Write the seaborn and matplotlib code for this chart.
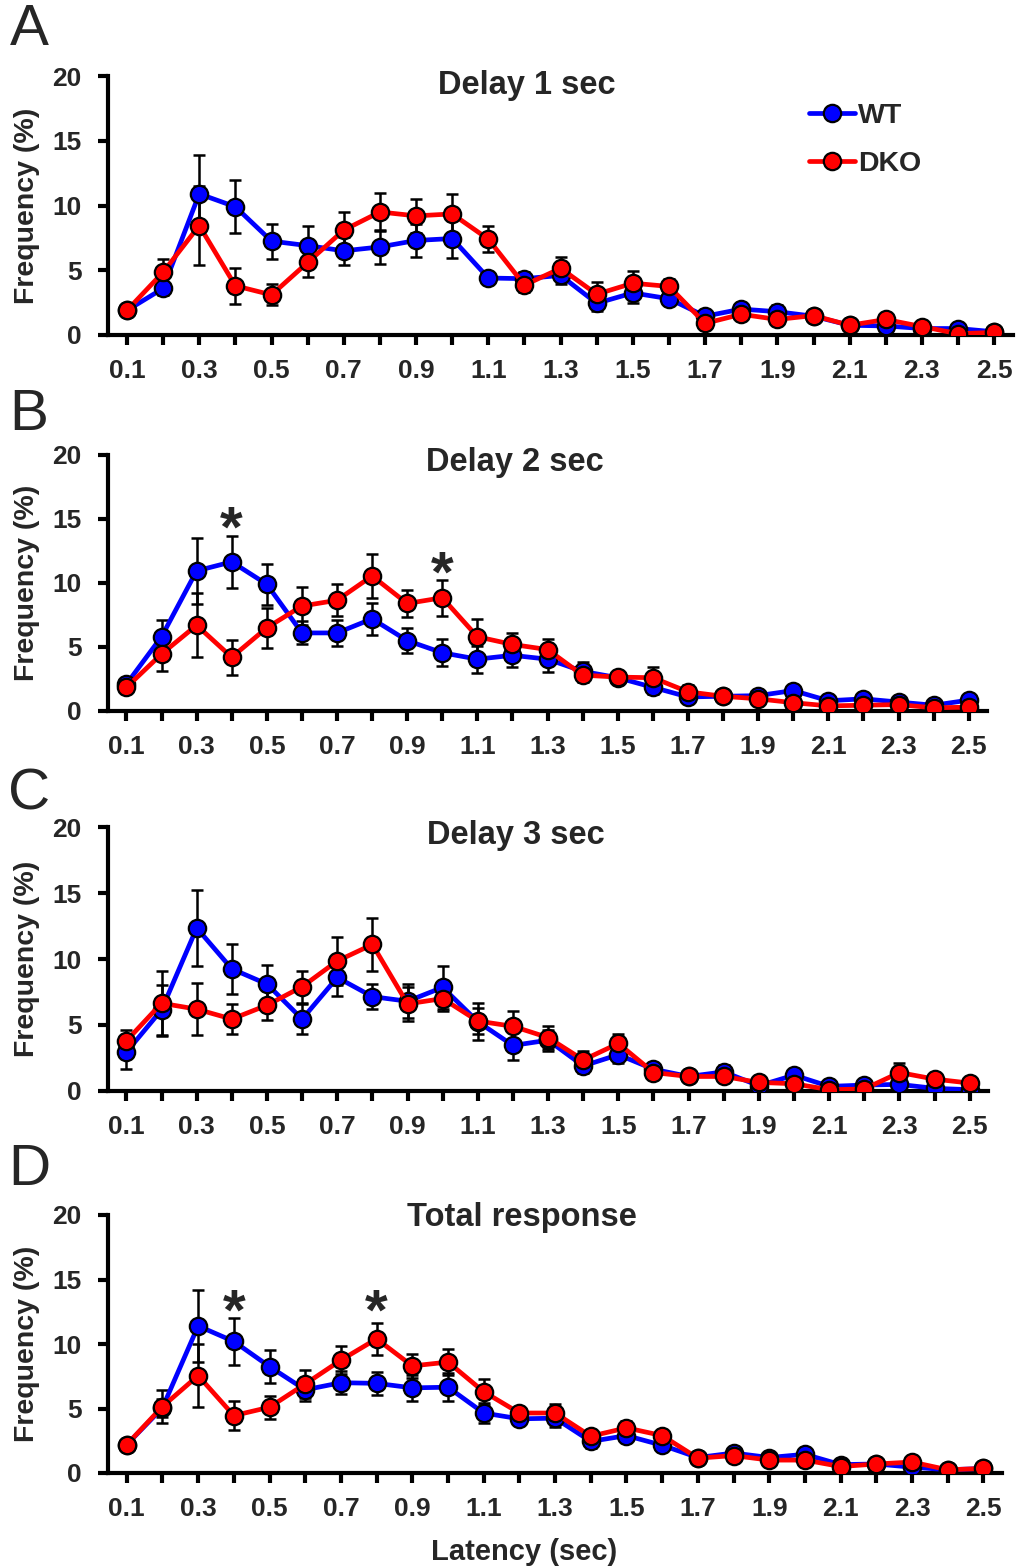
import matplotlib
matplotlib.use("Agg")
import matplotlib.pyplot as plt
import seaborn as sns
import pandas as pd
import numpy as np

# ---------------- data ----------------
latency = [0.1, 0.2, 0.3, 0.4, 0.5, 0.6, 0.7, 0.8, 0.9, 1.0, 1.1, 1.2, 1.3,
           1.4, 1.5, 1.6, 1.7, 1.8, 1.9, 2.0, 2.1, 2.2, 2.3, 2.4, 2.5]
tick_labels = ["0.1", "", "0.3", "", "0.5", "", "0.7", "", "0.9", "", "1.1", "", "1.3",
               "", "1.5", "", "1.7", "", "1.9", "", "2.1", "", "2.3", "", "2.5"]

wt_a = [1.9, 3.6, 10.9, 9.9, 7.25, 6.9, 6.5, 6.8, 7.3, 7.45, 4.4, 4.35, 4.6,
        2.45, 3.25, 2.8, 1.45, 2.0, 1.8, 1.45, 0.75, 0.7, 0.5, 0.5, 0.25]
wt_a_err = [0.4, 0.5, 3.0, 2.05, 1.35, 1.55, 1.1, 1.3, 1.3, 1.5, 0.5, 0.5, 0.7,
            0.6, 0.8, 0.5, 0.3, 0.4, 0.5, 0.4, 0.2, 0.3, 0.2, 0.2, 0.1]
dko_a = [1.9, 4.85, 8.45, 3.8, 3.1, 5.6, 8.1, 9.5, 9.2, 9.35, 7.4, 3.85, 5.15,
         3.15, 4.0, 3.75, 0.9, 1.6, 1.2, 1.5, 0.75, 1.2, 0.65, 0.1, 0.2]
dko_a_err = [0.4, 1.0, 3.05, 1.4, 0.8, 1.15, 1.4, 1.5, 1.3, 1.5, 1.0, 0.5, 0.9,
             0.95, 0.95, 0.6, 0.3, 0.4, 0.4, 0.4, 0.2, 0.3, 0.2, 0.1, 0.1]

wt_b = [2.1, 5.8, 10.95, 11.65, 9.9, 6.1, 6.1, 7.2, 5.5, 4.55, 4.05, 4.35, 4.05,
        3.1, 2.6, 1.85, 1.1, 1.15, 1.2, 1.6, 0.8, 0.95, 0.7, 0.45, 0.85]
wt_b_err = [0.4, 1.3, 2.6, 2.05, 1.6, 0.9, 1.0, 1.25, 0.95, 1.05, 1.05, 0.9, 1.0,
            0.7, 0.5, 0.5, 0.4, 0.3, 0.3, 0.4, 0.2, 0.2, 0.2, 0.1, 0.2]
dko_b = [1.85, 4.45, 6.7, 4.2, 6.5, 8.2, 8.65, 10.55, 8.4, 8.85, 5.8, 5.2, 4.8,
         2.8, 2.65, 2.6, 1.5, 1.15, 0.95, 0.65, 0.4, 0.45, 0.5, 0.25, 0.3]
dko_b_err = [0.3, 1.35, 2.5, 1.35, 1.55, 1.5, 1.25, 1.7, 1.05, 1.4, 1.4, 0.9, 0.85,
             0.5, 0.5, 0.85, 0.55, 0.3, 0.3, 0.3, 0.2, 0.2, 0.2, 0.1, 0.1]

wt_c = [2.95, 6.15, 12.35, 9.25, 8.1, 5.45, 8.6, 7.15, 6.8, 7.85, 5.25, 3.45, 3.85,
        1.9, 2.75, 1.65, 1.1, 1.45, 0.4, 1.2, 0.35, 0.45, 0.5, 0.2, 0.1]
wt_c_err = [1.3, 1.9, 2.9, 1.9, 1.45, 1.15, 1.4, 0.95, 1.3, 1.65, 1.4, 1.1, 0.8,
            0.5, 0.6, 0.4, 0.3, 0.5, 0.2, 0.3, 0.2, 0.2, 0.2, 0.1, 0.1]
dko_c = [3.8, 6.65, 6.2, 5.45, 6.5, 7.9, 9.85, 11.1, 6.6, 7.0, 5.3, 4.9, 4.05,
         2.35, 3.6, 1.4, 1.1, 1.1, 0.65, 0.55, 0.1, 0.15, 1.4, 0.9, 0.6]
dko_c_err = [0.8, 2.45, 1.95, 1.15, 1.15, 1.2, 1.8, 2.0, 1.3, 0.95, 1.0, 1.15, 0.9,
             0.7, 0.7, 0.4, 0.4, 0.4, 0.2, 0.2, 0.1, 0.1, 0.75, 0.3, 0.2]

wt_d = [2.2, 5.05, 11.4, 10.2, 8.25, 6.45, 7.0, 6.95, 6.6, 6.65, 4.65, 4.2, 4.25,
        2.45, 2.9, 2.15, 1.2, 1.55, 1.2, 1.45, 0.65, 0.7, 0.45, 0.25, 0.35]
wt_d_err = [0.3, 0.7, 2.8, 1.8, 1.25, 0.85, 0.9, 0.9, 1.0, 1.1, 0.75, 0.5, 0.7,
            0.5, 0.5, 0.4, 0.3, 0.3, 0.3, 0.3, 0.2, 0.2, 0.2, 0.1, 0.1]
dko_d = [2.2, 5.15, 7.55, 4.45, 5.1, 6.9, 8.75, 10.4, 8.3, 8.6, 6.3, 4.65, 4.65,
         2.85, 3.5, 2.9, 1.15, 1.35, 1.0, 1.0, 0.5, 0.7, 0.85, 0.25, 0.35]
dko_d_err = [0.3, 1.3, 2.45, 1.15, 0.9, 1.1, 1.1, 1.25, 0.95, 1.0, 1.0, 0.5, 0.7,
             0.5, 0.5, 0.4, 0.3, 0.3, 0.3, 0.3, 0.2, 0.2, 0.2, 0.1, 0.1]

panel_letters = ["A", "B", "C", "D"]
panel_titles = ["Delay 1 sec", "Delay 2 sec", "Delay 3 sec", "Total response"]
star_x_b = [0.4, 1.0]
star_y_b = [15.2, 11.7]
star_x_d = [0.4, 0.8]
star_y_d = [13.5, 13.5]

# ---------------- style ----------------
sns.set_style("ticks")
plt.rcParams["font.family"] = ["Liberation Sans", "DejaVu Sans"]
plt.rcParams["font.weight"] = "bold"

W, H = 1030, 1567
fig = plt.figure(figsize=(W / 100, H / 100), dpi=100)

# axes rectangles in pixels: (left, right, y_zero, y_twenty)
rects = [(108, 1013, 335, 76), (108, 987, 711, 455),
         (108, 988, 1091, 827), (108, 1002, 1473, 1215)]
title_y = [0.965, 0.969, 0.966, 0.992]
letter_y = [30, 415, 795, 1170]

panels = [(wt_a, wt_a_err, dko_a, dko_a_err),
          (wt_b, wt_b_err, dko_b, dko_b_err),
          (wt_c, wt_c_err, dko_c, dko_c_err),
          (wt_d, wt_d_err, dko_d, dko_d_err)]

blue = "#0000FF"
red = "#FF0000"

def star(ax, x, y):
    # asterisk glyph sits high in its text box; anchor on baseline
    ax.annotate("*", xy=(x, y), xytext=(0, -22), textcoords="offset points",
                ha="center", va="baseline", fontsize=42, fontweight="bold")

for i, ((wt, wte, dko, dkoe), (l, r, y0, y20)) in enumerate(zip(panels, rects)):
    ax = fig.add_axes([l / W, 1 - y0 / H, (r - l) / W, (y0 - y20) / H])
    df = pd.DataFrame({"Latency": latency * 2,
                       "Frequency": wt + dko,
                       "Group": ["WT"] * len(latency) + ["DKO"] * len(latency)})
    ax.errorbar(latency, wt, yerr=wte, fmt="none", ecolor="black",
                elinewidth=1.8, capsize=4, capthick=1.8, zorder=1)
    ax.errorbar(latency, dko, yerr=dkoe, fmt="none", ecolor="black",
                elinewidth=1.8, capsize=4, capthick=1.8, zorder=1)
    sns.lineplot(data=df, x="Latency", y="Frequency", hue="Group",
                 palette={"WT": blue, "DKO": red}, hue_order=["WT", "DKO"],
                 marker="o", markersize=12.5, markeredgecolor="black",
                 markeredgewidth=1.6, linewidth=3.4, ax=ax,
                 legend=(i == 0), zorder=3)

    ax.set_xlim(0.0475, 2.552)
    ax.set_ylim(0, 20)
    ax.set_xticks(latency)
    ax.set_xticklabels(tick_labels)
    ax.set_yticks([0, 5, 10, 15, 20])
    ax.set_yticklabels(["0", "5", "10", "15", "20"])
    sns.despine(ax=ax)
    for s in ["left", "bottom"]:
        ax.spines[s].set_linewidth(3)
        ax.spines[s].set_color("black")
    ax.tick_params(axis="both", which="major", length=7, width=3,
                   color="black", labelsize=19, direction="out")
    ax.tick_params(axis="x", pad=10)
    ax.tick_params(axis="y", pad=12)
    for t in ax.get_xticklabels() + ax.get_yticklabels():
        t.set_fontweight("bold")
    ax.set_ylabel("Frequency (%)", fontsize=20.5, fontweight="bold")
    ax.yaxis.set_label_coords(-68 / (r - l), 0.5)
    if i == 3:
        ax.set_xlabel("Latency (sec)", fontsize=21, fontweight="bold")
        ax.xaxis.set_label_coords(0.466, -0.25)
    else:
        ax.set_xlabel("")
    ax.text(0.463, title_y[i], panel_titles[i], transform=ax.transAxes,
            ha="center", va="center", fontsize=23.5, fontweight="bold")
    fig.text(29 / W, 1 - letter_y[i] / H, panel_letters[i], ha="center",
             va="center", fontsize=42, fontweight="normal")

    if i == 0:
        leg = ax.legend(loc="upper left", bbox_to_anchor=(0.775, 0.895),
                        frameon=False, fontsize=20.5, handlelength=1.6,
                        handletextpad=0.1, labelspacing=0.75,
                        borderaxespad=0, borderpad=0)
        for t in leg.get_texts():
            t.set_fontweight("bold")
    if i == 1:
        for sx, sy in zip(star_x_b, star_y_b):
            star(ax, sx, sy)
    if i == 3:
        for sx, sy in zip(star_x_d, star_y_d):
            star(ax, sx, sy)

fig.savefig("out.png", dpi=100)
